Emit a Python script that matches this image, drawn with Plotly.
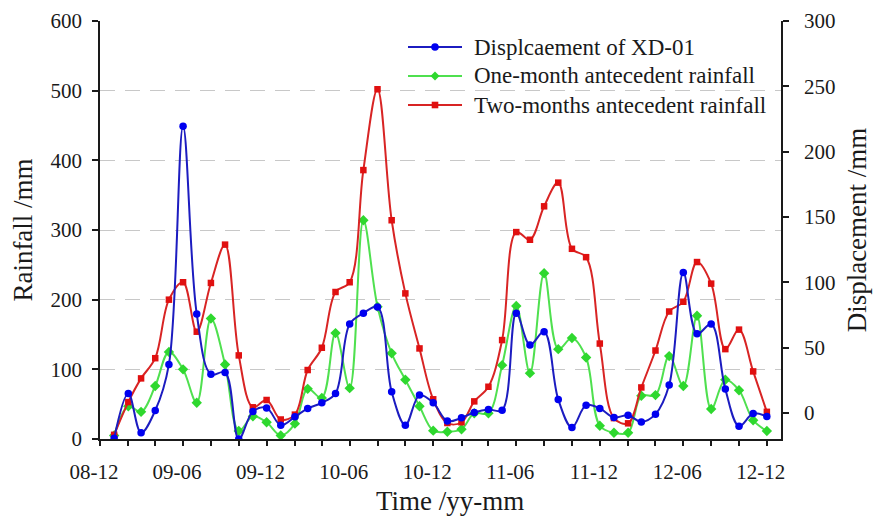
import pandas as pd
import plotly.graph_objects as go

# Monthly observations, Jan 2009 - Dec 2012
months = pd.date_range("2009-01-01", periods=48, freq="MS")

# Monthly displacement of monitoring point XD-01 (mm, right axis)
displacement = [
    -19.4, 14.9, -15.3, 1.8, 37.1, 219.5, 75.7, 29.5, 31.0, -20.0, 1.0, 3.8,
    -9.4, -3.0, 3.4, 7.7, 14.9, 68.0, 76.3, 81.0, 16.1, -9.4, 13.6, 7.7,
    -6.3, -3.8, 0.3, 2.6, 2.1, 76.3, 52.0, 62.2, 10.3, -11.2, 5.9, 3.4,
    -3.5, -1.8, -6.9, -1.0, 21.3, 107.4, 60.5, 68.0, 18.2, -10.2, -0.5, -2.8,
]

# One-month antecedent rainfall (mm, left axis)
rain_1m = [
    5, 47, 39, 76, 125, 100, 52, 173, 107, 11.5, 32.5, 24,
    5, 22, 72, 59, 152, 73, 314, 190, 123, 85, 47, 12,
    10.5, 14, 37, 37, 106, 191, 94.5, 238, 129, 145, 117, 19,
    9, 9, 62, 63, 119, 76, 177, 43, 85, 70, 27, 11.5,
]

# Two-months antecedent rainfall (mm, left axis)
rain_2m = [
    6, 53, 87, 116, 200, 225, 154, 224, 279, 120, 45.5, 56,
    28, 35, 99, 131, 211, 225, 386, 502, 314, 209, 130, 57,
    23, 24, 54, 75, 142, 297, 286, 334, 368, 273, 261, 137,
    30, 22.5, 74, 127, 183, 197, 254, 223, 129, 157, 97, 39,
]

series_names = [
    "Displcaement of XD-01",
    "One-month antecedent rainfall",
    "Two-months antecedent rainfall",
]

# x ticks every two months, labelled every six months
tick_dates = pd.date_range("2008-12-01", "2012-12-01", freq="2MS")
tick_text = [d.strftime("%y-%m") if (i % 3 == 0) else "" for i, d in enumerate(tick_dates)]

FONT = "Liberation Serif"
INK = "#1a1a1a"

blue_line, blue_mark = "#1c1cc0", "#0000f0"
green_line, green_mark = "#4fe04f", "#2ed82e"
red_line, red_mark = "#d82424", "#e01010"

fig = go.Figure()

fig.add_trace(go.Scatter(
    x=months, y=rain_1m, name=series_names[1], yaxis="y",
    mode="lines+markers", line=dict(color=green_line, width=2, shape="spline", smoothing=1),
    marker=dict(symbol="diamond", size=8, color=green_mark),
))
fig.add_trace(go.Scatter(
    x=months, y=rain_2m, name=series_names[2], yaxis="y",
    mode="lines+markers", line=dict(color=red_line, width=2, shape="spline", smoothing=1),
    marker=dict(symbol="square", size=6.5, color=red_mark),
))
fig.add_trace(go.Scatter(
    x=months, y=displacement, name=series_names[0], yaxis="y2",
    mode="lines+markers", line=dict(color=blue_line, width=2, shape="spline", smoothing=1),
    marker=dict(symbol="circle", size=7.5, color=blue_mark),
))

# Hand-drawn legend (long line samples with a centred marker)
L, R, T, B = 100, 781, 21, 439
def px(xp):
    return (xp - L) / (R - L)
def py(yp):
    return (B - yp) / (B - T)

legend_rows = [
    (47, series_names[0], blue_line, blue_mark, "circle"),
    (76, series_names[1], green_line, green_mark, "diamond"),
    (105, series_names[2], red_line, red_mark, "square"),
]
shapes = []
annotations = []
for yrow, label, lc, mc, sym in legend_rows:
    shapes.append(dict(type="line", xref="paper", yref="paper",
                       x0=px(408), x1=px(462), y0=py(yrow), y1=py(yrow),
                       line=dict(color=lc, width=2)))
    common = dict(xref="paper", yref="paper", xsizemode="pixel", ysizemode="pixel",
                  xanchor=px(435), yanchor=py(yrow), fillcolor=mc, line=dict(width=0))
    if sym == "circle":
        shapes.append(dict(type="circle", x0=-3.8, x1=3.8, y0=-3.8, y1=3.8, **common))
    elif sym == "square":
        shapes.append(dict(type="rect", x0=-3.3, x1=3.3, y0=-3.3, y1=3.3, **common))
    else:
        shapes.append(dict(type="path", path="M0,4.5 L4.5,0 L0,-4.5 L-4.5,0 Z", **common))
    annotations.append(dict(text=label, xref="paper", yref="paper", x=px(472), y=py(yrow),
                            xanchor="left", yanchor="middle", showarrow=False,
                            font=dict(family=FONT, size=23, color=INK)))

# x-axis title, centred under the tick labels
annotations.append(dict(text="Time /yy-mm", xref="paper", yref="paper", x=px(450), y=py(501),
                        xanchor="center", yanchor="middle", showarrow=False,
                        font=dict(family=FONT, size=27, color=INK)))

axis_common = dict(
    showline=True, linecolor=INK, linewidth=1.5, ticks="outside", tickcolor=INK,
    tickwidth=1.5, tickfont=dict(family=FONT, size=21, color=INK), zeroline=False,
    automargin=False,
)

fig.update_layout(
    width=874, height=517,
    margin=dict(l=L, r=874 - R, t=T, b=517 - B, autoexpand=False),
    paper_bgcolor="white", plot_bgcolor="white",
    showlegend=False,
    shapes=shapes, annotations=annotations,
    xaxis=dict(
        type="date", range=["2008-12-01", "2013-01-01"],
        tickmode="array", tickvals=list(tick_dates), ticktext=tick_text,
        ticklen=5, showgrid=False, ticklabelstandoff=8, ticklabelshift=-6,
        **axis_common,
    ),
    yaxis=dict(
        range=[0, 600], dtick=100, ticklen=6, ticklabelstandoff=6,
        showgrid=True, gridcolor="#c8c8c8", gridwidth=1, griddash="15px,10px",
        title=dict(text="Rainfall /mm", font=dict(family=FONT, size=27, color=INK), standoff=10),
        **axis_common,
    ),
    yaxis2=dict(
        range=[-20, 300], tick0=0, dtick=50, ticklen=6, overlaying="y", side="right",
        showgrid=False, ticklabelstandoff=11,
        title=dict(text="Displacement /mm", font=dict(family=FONT, size=27, color=INK), standoff=13),
        **axis_common,
    ),
)

fig.write_html("out.html")
